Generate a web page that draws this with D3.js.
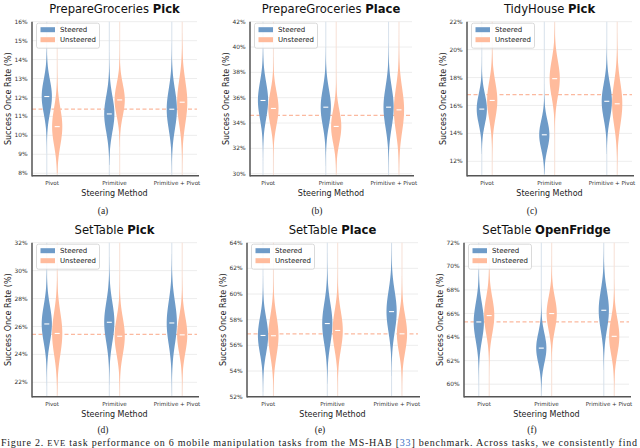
<!DOCTYPE html>
<html><head><meta charset="utf-8">
<script src="https://cdn.jsdelivr.net/npm/d3@7/dist/d3.min.js"></script>
<style>
html,body{margin:0;padding:0;background:#fff;}
svg{display:block;}
</style></head>
<body>
<svg id="chart" width="640" height="448"></svg>
<script>
// ---------- DATA ----------
const groups = ["Pivot", "Primitive", "Primitive + Pivot"];
const seriesNames = ["Steered", "Unsteered"];
const titleTask = ["PrepareGroceries", "PrepareGroceries", "TidyHouse", "SetTable", "SetTable", "SetTable"];
const titleAction = ["Pick", "Place", "Pick", "Pick", "Place", "OpenFridge"];
const panelLetters = ["(a)", "(b)", "(c)", "(d)", "(e)", "(f)"];
const yDomains = [[7.87, 16], [29.84, 42], [10.97, 22], [20.97, 32], [52, 64], [58.94, 72]];
const yTicks = [
  [8, 9, 10, 11, 12, 13, 14, 15, 16],
  [30, 32, 34, 36, 38, 40, 42],
  [12, 14, 16, 18, 20, 22],
  [22, 24, 26, 28, 30, 32],
  [52, 54, 56, 58, 60, 62, 64],
  [60, 62, 64, 66, 68, 70, 72]
];
// medians and extents per panel, per group (Pivot, Primitive, Primitive + Pivot)
const steeredMedian = [[12.05, 11.13, 11.38], [35.78, 35.25, 35.25], [15.74, 13.9, 16.3], [26.18, 26.3, 26.25], [56.77, 57.7, 58.63], [65.28, 63.06, 66.27]];
const steeredMin    = [[9.06, 8.44, 8.0],   [30.6, 30.6, 30.0],    [12.5, 11.1, 12.5],  [21.7, 21.8, 21.2],   [52.3, 53.0, 53.6],   [59.8, 59.0, 61.2]];
const steeredMax    = [[14.86, 14.6, 14.86], [40.0, 40.0, 40.3],   [19.5, 17.8, 20.7],  [30.3, 31.0, 31.2],   [61.4, 63.2, 64.0],   [70.0, 67.2, 72.0]];
const unsteeredMedian = [[10.46, 11.87, 11.75], [35.15, 33.73, 35.04], [16.36, 17.92, 16.12], [25.5, 25.3, 25.4], [56.75, 57.16, 56.9], [65.82, 65.99, 64.06]];
const unsteeredMin    = [[8.0, 9.4, 8.0],     [30.6, 30.0, 30.0],    [11.8, 13.5, 11.1],    [21.1, 21.1, 21.1], [52.1, 52.1, 52.1],   [60.7, 61.8, 59.0]];
const unsteeredMax    = [[14.5, 14.86, 15.4], [39.2, 38.5, 41.3],    [20.4, 22.0, 21.2],    [31.0, 29.7, 29.5], [62.2, 61.9, 61.4],   [70.6, 70.9, 68.9]];
const baseline = [11.38, 34.6, 16.77, 25.44, 56.9, 65.28];
const captionText = ["Figure 2. ", "EVE", " task performance on 6 mobile manipulation tasks from the MS-HAB [", "33", "] benchmark. Across tasks, we consistently find"];

// ---------- LAYOUT ----------
const colors = {Steered: "#6e9bc8", Unsteered: "#ffbb9c"};
const panelBox = [
  {left: 32, right: 197, top: 21.7, bottom: 175.7, pad: 0.32, sub: 103},
  {left: 250, right: 412, top: 21.7, bottom: 175.7, pad: 0.29, sub: 317},
  {left: 467, right: 632, top: 21.7, bottom: 175.7, pad: 0.32, sub: 532},
  {left: 32, right: 197, top: 242.7, bottom: 396.7, pad: 0.32, sub: 103},
  {left: 247, right: 418, top: 242.7, bottom: 396.7, pad: 0.33, sub: 320},
  {left: 464, right: 629, top: 242.7, bottom: 396.7, pad: 0.32, sub: 532}
];
const FONT = "DejaVu Sans, sans-serif";
const svg = d3.select("#chart");

function violinPath(y, cx, med, lo, hi) {
  const sd = (hi - lo) / 6.5;
  const n = 80;
  const pts = d3.range(n + 1).map(i => lo + (hi - lo) * i / n);
  const hw = 5.1;
  const dens = pts.map(v => Math.exp(-0.5 * Math.pow((v - med) / sd, 2)));
  const mx = d3.max(dens);
  const right = pts.map((v, i) => [cx + hw * dens[i] / mx, y(v)]);
  const left = pts.map((v, i) => [cx - hw * dens[i] / mx, y(v)]).reverse();
  return d3.line()(right.concat(left)) + "Z";
}

panelBox.forEach((b, p) => {
  const g = svg.append("g");
  const x = d3.scalePoint().domain(groups).range([b.left, b.right]).padding(b.pad);
  const y = d3.scaleLinear().domain(yDomains[p]).range([b.bottom, b.top]);
  const dodge = d3.scalePoint().domain(seriesNames).range([-5.2, 5.2]);

  // grid
  g.selectAll(".grid").data(yTicks[p]).join("line")
    .attr("x1", b.left).attr("x2", b.right)
    .attr("y1", d => y(d)).attr("y2", d => y(d))
    .attr("stroke", "#ebebeb").attr("stroke-width", 0.9);

  // faint vertical lines at violin centers
  groups.forEach(gr => seriesNames.forEach(s => {
    g.append("line")
      .attr("x1", x(gr) + dodge(s)).attr("x2", x(gr) + dodge(s))
      .attr("y1", b.top).attr("y2", b.bottom)
      .attr("stroke", s === "Steered" ? "#d7e1ec" : "#f7e0d6").attr("stroke-width", 1);
  }));

  // baseline dashed
  g.append("line")
    .attr("x1", b.left).attr("x2", b.right)
    .attr("y1", y(baseline[p])).attr("y2", y(baseline[p]))
    .attr("stroke", "#fbb99f").attr("stroke-width", 1.3).attr("stroke-dasharray", "4,2.5");

  // violins
  const sets = [
    {s: "Steered", med: steeredMedian[p], lo: steeredMin[p], hi: steeredMax[p]},
    {s: "Unsteered", med: unsteeredMedian[p], lo: unsteeredMin[p], hi: unsteeredMax[p]}
  ];
  sets.forEach(set => {
    groups.forEach((gr, i) => {
      const cx = x(gr) + dodge(set.s);
      g.append("path")
        .attr("d", violinPath(y, cx, set.med[i], set.lo[i], set.hi[i]))
        .attr("fill", colors[set.s]).attr("stroke", "none");
      g.append("line")
        .attr("x1", cx - 2.5).attr("x2", cx + 2.5)
        .attr("y1", y(set.med[i])).attr("y2", y(set.med[i]))
        .attr("stroke", "#fff").attr("stroke-width", 1.1);
    });
  });

  // spines
  g.append("line").attr("x1", b.left).attr("x2", b.left).attr("y1", b.top).attr("y2", b.bottom + 0.8)
    .attr("stroke", "#555").attr("stroke-width", 1.5);
  g.append("line").attr("x1", b.left).attr("x2", b.right + 2).attr("y1", b.bottom).attr("y2", b.bottom)
    .attr("stroke", "#555").attr("stroke-width", 1.5);

  // y tick labels
  g.selectAll(".yt").data(yTicks[p]).join("text")
    .attr("x", b.left - 4.5).attr("y", d => y(d)).attr("dy", "0.35em")
    .attr("text-anchor", "end").attr("font-family", FONT).attr("font-size", 5.9)
    .attr("fill", "#333").text(d => d + "%");

  // x tick labels
  g.selectAll(".xt").data(groups).join("text")
    .attr("x", d => x(d)).attr("y", b.bottom + 9.5)
    .attr("text-anchor", "middle").attr("font-family", FONT).attr("font-size", 5.6)
    .attr("fill", "#333").text(d => d);

  const cxp = (b.left + b.right) / 2;
  // x label
  g.append("text").attr("x", cxp).attr("y", b.bottom + 20.5)
    .attr("text-anchor", "middle").attr("font-family", FONT).attr("font-size", 8)
    .attr("fill", "#222").text("Steering Method");
  // y label
  g.append("text")
    .attr("transform", `translate(${b.left - 21},${(b.top + b.bottom) / 2}) rotate(-90)`)
    .attr("text-anchor", "middle").attr("font-family", FONT).attr("font-size", 8)
    .attr("fill", "#222").text("Success Once Rate (%)");
  // title
  const t = g.append("text").attr("x", cxp).attr("y", b.top - 8.5)
    .attr("text-anchor", "middle").attr("font-family", FONT).attr("font-size", 11.6).attr("fill", "#111");
  t.append("tspan").text(titleTask[p] + " ");
  t.append("tspan").attr("font-weight", "bold").text(titleAction[p]);

  // legend
  const lg = g.append("g").attr("transform", `translate(${b.left + 4.5},${b.top + 1.5})`);
  lg.append("rect").attr("width", 63).attr("height", 25).attr("rx", 2)
    .attr("fill", "#fff").attr("fill-opacity", 0.85).attr("stroke", "#d0d0d0").attr("stroke-width", 0.8);
  seriesNames.forEach((s, i) => {
    lg.append("rect").attr("x", 4).attr("y", 6.5 + i * 10 - 2.5).attr("width", 14.5).attr("height", 5)
      .attr("fill", colors[s]);
    lg.append("text").attr("x", 23.5).attr("y", 6.5 + i * 10).attr("dy", "0.35em")
      .attr("font-family", FONT).attr("font-size", 7).attr("fill", "#222").text(s);
  });

  // subfigure letter
  svg.append("text").attr("x", b.sub).attr("y", b.bottom + (p < 3 ? 38.5 : 36.5))
    .attr("text-anchor", "middle").attr("font-family", "Liberation Serif, serif").attr("font-size", 9.5)
    .attr("fill", "#222").text(panelLetters[p]);
});

// caption line at the bottom edge
const cap = svg.append("text").attr("x", 1).attr("y", 445.5)
  .attr("font-family", "Liberation Serif, serif").attr("font-size", 10).attr("fill", "#222")
  .attr("textLength", 636).attr("lengthAdjust", "spacing");
captionText.forEach((s, i) => {
  const ts = cap.append("tspan").text(s);
  if (i === 1) ts.attr("font-variant", "small-caps").attr("font-size", 8.5);
  if (i === 3) ts.attr("fill", "#3a6fc4");
});
</script>
</body></html>
